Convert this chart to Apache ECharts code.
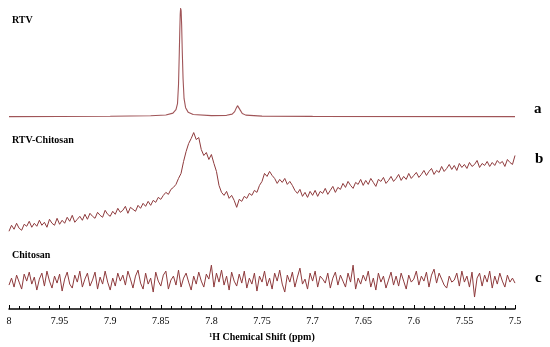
<!DOCTYPE html>
<html><head><meta charset="utf-8">
<script src="https://cdn.jsdelivr.net/npm/echarts@6/dist/echarts.min.js"></script>
<style>html,body{margin:0;padding:0;background:#fff}#c{width:550px;height:347px}</style>
</head><body><div id="c"></div>
<script>
// x tick labels (ppm), axis reversed
const xTicks = ['8','7.95','7.9','7.85','7.8','7.75','7.7','7.65','7.6','7.55','7.5'];
const traceNames = ['RTV', 'RTV-Chitosan', 'Chitosan'];
const traceLetters = ['a', 'b', 'c'];

// Trace a (RTV): [ppm, intensity above its baseline]
const rtvPoints = [
  [8.0,0],[7.9,0.3],[7.86,0.9],[7.845,1.6],[7.838,3.5],[7.835,7],[7.8335,13],[7.8325,32],
  [7.8317,65],[7.8312,88],[7.8308,103],[7.8304,109],[7.8299,106],[7.8294,92],[7.8288,66],
  [7.828,38],[7.827,18],[7.8255,9],[7.823,4.5],[7.818,2.2],[7.80,1],[7.785,1.3],[7.7795,2.5],
  [7.777,5],[7.7755,8.5],[7.7742,11],[7.7730,10],[7.7715,6.5],[7.7695,3.2],[7.766,1.5],
  [7.75,0.5],[7.7,0.2],[7.5,0]
];
const rtvBaseline = 193;

// Trace b (RTV-Chitosan) sampled every 0.0025 ppm from 8.0 to 7.5
const rtvChitosan = [
  78,84,80,86,81,79,85,83,88,82,86,
  83,89,84,87,82,90,86,84,91,85,
  89,86,92,88,94,87,90,93,89,95,
  90,96,93,91,97,94,92,99,95,93,
  98,95,101,97,99,103,96,102,100,98,
  104,101,106,103,108,104,
  109,107,112,110,
  114,117,115,120,
  122,125,131,136,148,158,166,171,177,
  170,172,160,154,157,150,155,146,138,124,117,114,118,111,114,109,102,110,108,113,111,116,114,119,117,124,
  128,136,133,138,134,131,126,130,127,131,125,128,124,119,116,120,113,117,112,118,114,
  119,113,118,116,121,115,119,123,117,122,
  120,126,122,128,124,121,127,125,130,124,
  129,125,131,127,123,130,128,132,126,129,
  133,128,131,135,129,133,130,136,131,134,
  137,132,135,139,134,138,141,135,139,137,
  143,138,141,145,140,144,139,146,142,145,
  141,147,143,145,149,142,146,144,148,143,
  147,144,149,146,148,143,150,147,145,154
];

// Trace c (Chitosan) sampled every 0.0025 ppm from 8.0 to 7.5
const chitosan = [
  24,31,22,34,27,20,35,28,37,25,32,19,30,36,23,38,28,21,33,26,
  35,18,30,37,25,21,34,27,38,22,30,36,23,29,37,20,32,25,38,27,
  19,31,23,36,28,34,24,38,30,21,33,39,26,20,36,25,31,17,37,28,
  23,34,38,20,29,33,24,39,22,31,36,27,19,33,25,37,28,22,35,30,
  44,22,36,27,39,24,33,19,37,28,23,35,26,38,21,31,25,36,18,33,
  27,38,23,31,20,36,28,39,25,17,34,27,37,22,32,41,25,30,20,36,
  28,38,22,33,30,26,36,21,31,37,24,34,28,22,36,27,44,20,31,25,
  34,28,38,22,31,19,36,27,33,21,29,37,24,33,23,36,28,20,34,27,
  30,38,24,33,28,37,22,34,40,26,36,30,24,21,33,27,29,36,23,38,
  27,33,22,37,12,31,36,23,34,27,38,21,33,25,36,28,22,34,27,31,26
];
const ppmStart = 8.0, ppmStep = 0.0025;

const toPairs = arr => arr.map((v, i) => [+(ppmStart - i * ppmStep).toFixed(4), v]);
const lineColor = '#8e3a3c';
const chart = echarts.init(document.getElementById('c'));
const serif = '"Liberation Serif","DejaVu Serif",serif';

chart.setOption({
  animation: false,
  grid: { left: 9, right: 35, top: 0, bottom: 37 },
  xAxis: {
    type: 'value', min: 7.5, max: 8, interval: 0.05, inverse: true,
    name: '\u00B9H Chemical Shift (ppm)', nameLocation: 'middle', nameGap: 23,
    nameTextStyle: { fontFamily: serif, fontWeight: 'bold', fontSize: 10, color: '#000' },
    axisLine: { onZero: false, lineStyle: { color: '#000', width: 1.5 } },
    axisTick: { inside: true, length: 4, lineStyle: { color: '#000' } },
    minorTick: { show: true, splitNumber: 5, length: 3, lineStyle: { color: '#000' } },
    splitLine: { show: false },
    axisLabel: { fontFamily: serif, fontSize: 10, color: '#000', margin: 7,
      formatter: (v) => { const s = xTicks.find(t => Math.abs(parseFloat(t) - v) < 1e-6); return s || ''; } }
  },
  yAxis: { type: 'value', min: 0, max: 310, show: false },
  series: [
    { type: 'line', data: rtvPoints.map(p => [p[0], p[1] + rtvBaseline]), showSymbol: false, smooth: false,
      lineStyle: { color: '#a05558', width: 1.1 } },
    { type: 'line', data: toPairs(rtvChitosan), showSymbol: false,
      lineStyle: { color: lineColor, width: 1 } },
    { type: 'line', data: toPairs(chitosan), showSymbol: false,
      lineStyle: { color: lineColor, width: 1 } }
  ],
  graphic: [
    { type: 'text', left: 12, top: 15, style: { text: traceNames[0], font: 'bold 10px ' + serif, fill: '#000' } },
    { type: 'text', left: 12, top: 135, style: { text: traceNames[1], font: 'bold 10px ' + serif, fill: '#000' } },
    { type: 'text', left: 12, top: 250, style: { text: traceNames[2], font: 'bold 10px ' + serif, fill: '#000' } },
    { type: 'text', left: 534, top: 102, style: { text: traceLetters[0], font: 'bold 15px ' + serif, fill: '#000' } },
    { type: 'text', left: 535, top: 152, style: { text: traceLetters[1], font: 'bold 15px ' + serif, fill: '#000' } },
    { type: 'text', left: 535, top: 271, style: { text: traceLetters[2], font: 'bold 15px ' + serif, fill: '#000' } }
  ]
});
</script></body></html>
